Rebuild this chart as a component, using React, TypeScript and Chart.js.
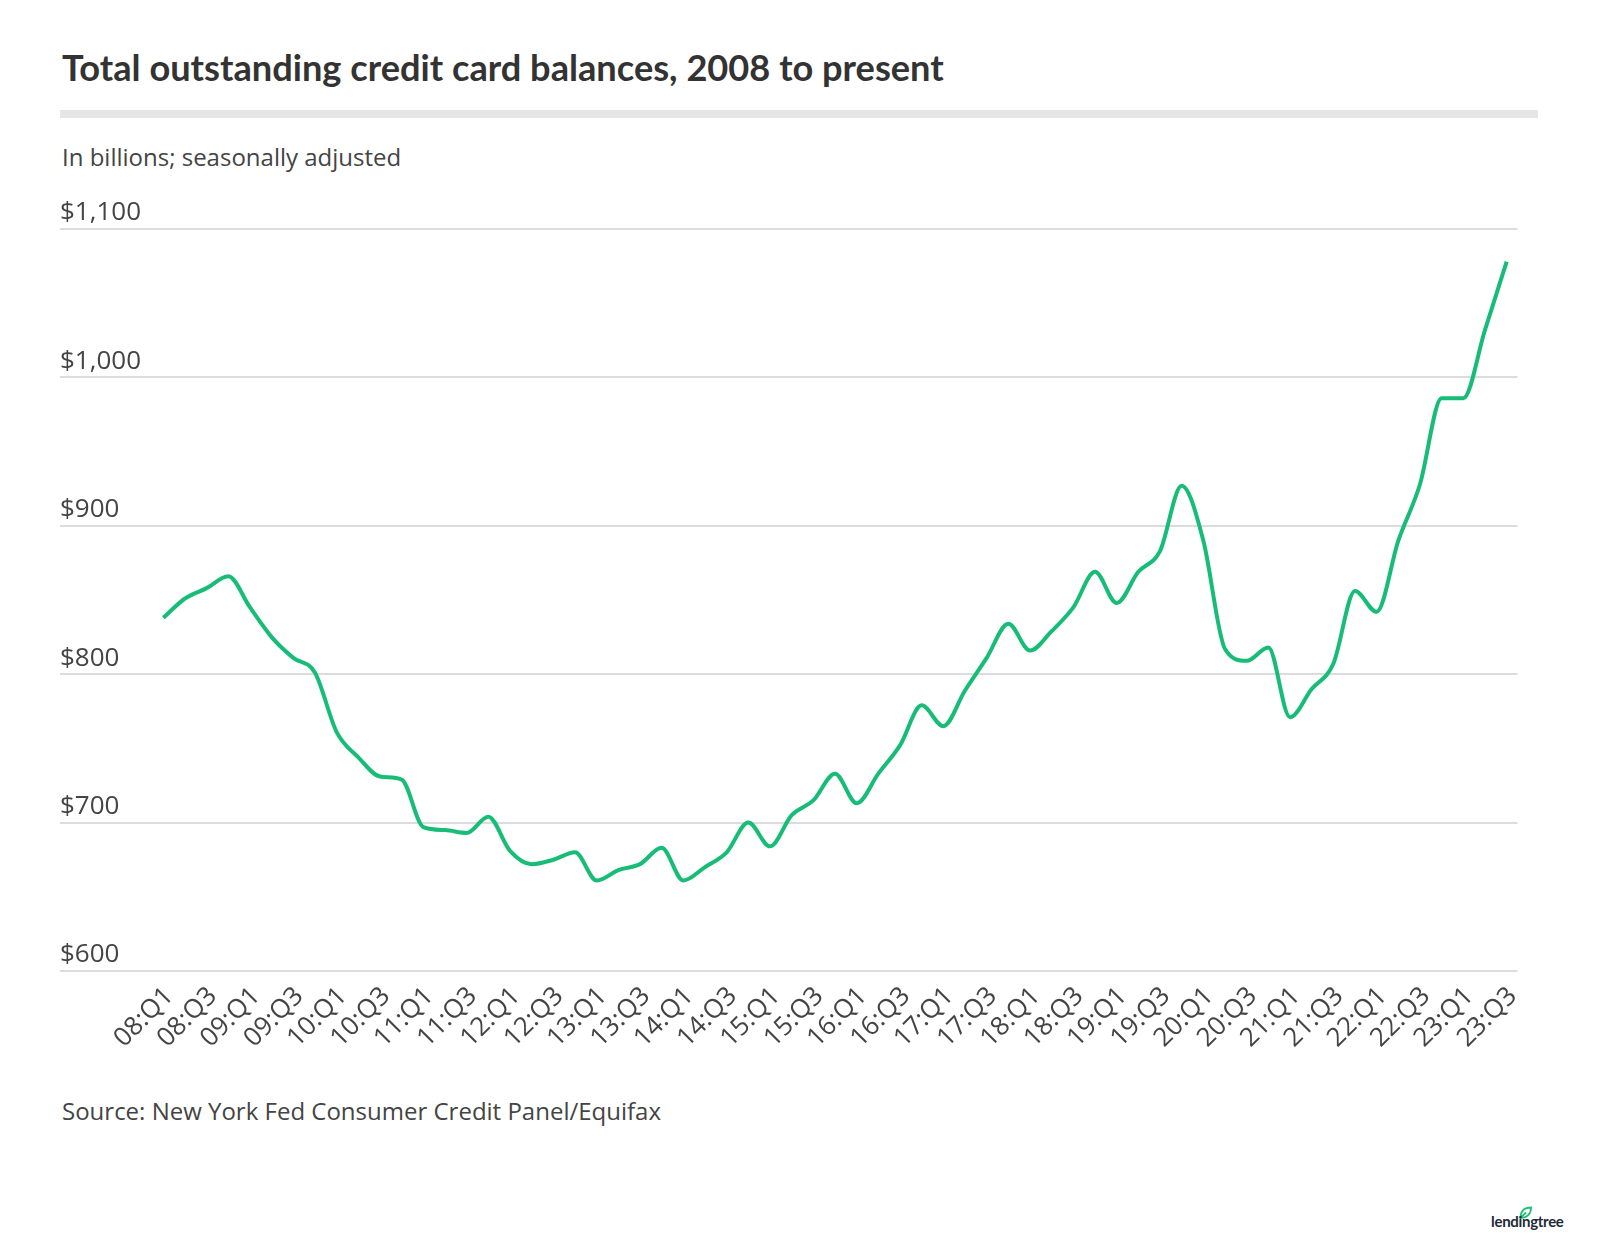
import React, { useEffect, useRef } from 'react';
import { Chart, registerables } from 'chart.js';

Chart.register(...registerables);

const quarters = [
  '08:Q1', '08:Q2', '08:Q3', '08:Q4',
  '09:Q1', '09:Q2', '09:Q3', '09:Q4',
  '10:Q1', '10:Q2', '10:Q3', '10:Q4',
  '11:Q1', '11:Q2', '11:Q3', '11:Q4',
  '12:Q1', '12:Q2', '12:Q3', '12:Q4',
  '13:Q1', '13:Q2', '13:Q3', '13:Q4',
  '14:Q1', '14:Q2', '14:Q3', '14:Q4',
  '15:Q1', '15:Q2', '15:Q3', '15:Q4',
  '16:Q1', '16:Q2', '16:Q3', '16:Q4',
  '17:Q1', '17:Q2', '17:Q3', '17:Q4',
  '18:Q1', '18:Q2', '18:Q3', '18:Q4',
  '19:Q1', '19:Q2', '19:Q3', '19:Q4',
  '20:Q1', '20:Q2', '20:Q3', '20:Q4',
  '21:Q1', '21:Q2', '21:Q3', '21:Q4',
  '22:Q1', '22:Q2', '22:Q3', '22:Q4',
  '23:Q1', '23:Q2', '23:Q3',
];

const balances = [
  838, 851, 858, 866,
  845, 825, 811, 801,
  761, 744, 731, 729,
  697, 695, 693, 704,
  681, 672, 675, 680,
  661, 668, 672, 683,
  661, 670, 680, 700,
  684, 705, 715, 733,
  713, 733, 752, 779,
  765, 789, 811, 834,
  816, 829, 845, 869,
  848, 869, 883, 927,
  890, 817, 809, 818,
  771, 790, 807, 856,
  842, 890, 928, 986,
  986, 1032, 1078,
];

const yTicks = [600, 700, 800, 900, 1000, 1100];

const TITLE = 'Total outstanding credit card balances, 2008 to present';
const SUBTITLE = 'In billions; seasonally adjusted';
const SOURCE = 'Source: New York Fed Consumer Credit Panel/Equifax';

export default function App() {
  const ref = useRef<HTMLCanvasElement>(null);

  useEffect(() => {
    document.body.style.margin = '0';
    const chart = new Chart(ref.current as HTMLCanvasElement, {
      type: 'line',
      data: {
        labels: quarters,
        datasets: [
          {
            data: balances,
            borderColor: '#17bd77',
            borderWidth: 4,
            pointRadius: 0,
            cubicInterpolationMode: 'monotone',
            fill: false,
          },
        ],
      },
      options: {
        animation: false,
        responsive: true,
        maintainAspectRatio: false,
        layout: { padding: { left: 60, right: 82.5, top: 49, bottom: 29 } },
        plugins: { legend: { display: false }, tooltip: { enabled: false } },
        scales: {
          x: {
            offset: true,
            grid: { display: false, drawTicks: false },
            border: { display: false },
            ticks: {
              autoSkip: false,
              maxRotation: 45,
              minRotation: 45,
              padding: 10,
              labelOffset: 6,
              color: '#444444',
              font: { family: 'Open Sans', size: 26 },
              callback: (_v: any, i: number) => (i % 2 === 0 ? quarters[i] : ''),
            },
            afterFit: (s: any) => {
              s.height = 80;
            },
          },
          y: {
            min: 600,
            max: 1100,
            afterBuildTicks: (s: any) => {
              s.ticks = yTicks.map((v) => ({ value: v }));
            },
            grid: { color: '#dcdcdc', lineWidth: 2, tickLength: 92.5, drawTicks: true },
            border: { display: false },
            ticks: {
              crossAlign: 'far',
              padding: 0,
              labelOffset: -16,
              color: '#444444',
              font: { family: 'Open Sans', size: 26 },
              callback: (v: any) => '$' + Number(v).toLocaleString('en-US'),
            },
            afterFit: (s: any) => {
              s.width = 92.5;
            },
          },
        },
      },
    } as any);
    return () => chart.destroy();
  }, []);

  return (
    <div style={{ position: 'relative', width: 1600, height: 1250, background: '#fff', overflow: 'hidden' }}>
      <div
        style={{
          position: 'absolute', left: 62, top: 49, fontFamily: 'Lato', fontWeight: 700,
          fontSize: 36.2, lineHeight: '36px', color: '#333333', whiteSpace: 'nowrap',
        }}
      >
        {TITLE}
      </div>
      <div style={{ position: 'absolute', left: 60, top: 110, width: 1478, height: 8, background: '#e6e6e6' }} />
      <div
        style={{
          position: 'absolute', left: 62, top: 145, fontFamily: 'Open Sans', fontSize: 24,
          lineHeight: '24px', color: '#444444', whiteSpace: 'nowrap',
        }}
      >
        {SUBTITLE}
      </div>
      <div style={{ position: 'absolute', left: 0, top: 180, width: 1600, height: 900 }}>
        <canvas ref={ref} />
      </div>
      <div
        style={{
          position: 'absolute', left: 62, top: 1099, fontFamily: 'Open Sans', fontSize: 24,
          lineHeight: '24px', color: '#444444', whiteSpace: 'nowrap',
        }}
      >
        {SOURCE}
      </div>
      <svg style={{ position: 'absolute', left: 1519, top: 1206 }} width="13" height="13" viewBox="0 0 13 13">
        <path d="M1.5 12 C1.5 5 5 1.5 12 1.5 C12 8 8 12 1.5 12 Z M1.5 12 L7 6.5" fill="none" stroke="#1dbf73" strokeWidth="1.8" />
      </svg>
      <div
        style={{
          position: 'absolute', left: 1491, top: 1214, fontFamily: 'Lato', fontWeight: 700,
          fontSize: 15, lineHeight: '15px', color: '#1e2a38', whiteSpace: 'nowrap', letterSpacing: -0.3,
        }}
      >
        lendingtree
      </div>
    </div>
  );
}
